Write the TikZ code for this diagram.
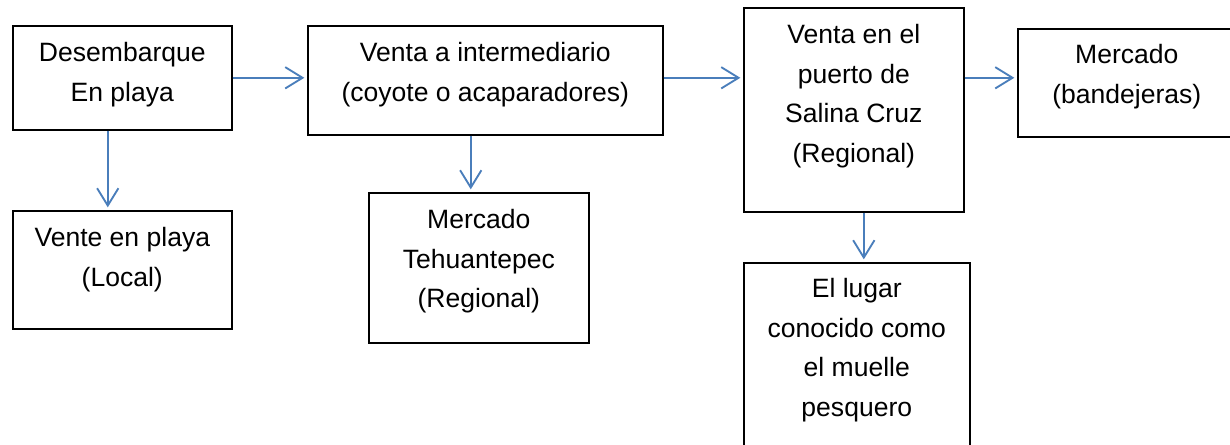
\documentclass[tikz,border=0pt]{standalone}
\usepackage{fontspec}
\setmainfont{Liberation Sans}
\usetikzlibrary{arrows.meta,positioning}
\definecolor{flowblue}{RGB}{74,126,187}
\tikzset{
  box/.style = {draw=black, line width=1.2pt, rectangle, anchor=north west, inner sep=0pt},
  lbl/.style = {align=center, inner sep=0pt, font=\fontsize{19.9}{29.8}\selectfont},
  arrow/.style = {draw=flowblue, line width=1.4pt, -{Straight Barb[length=13pt, width=16pt]}, shorten >=2pt}
}

\begin{document}
\begin{tikzpicture}[x=0.75pt, y=-0.75pt]
  \clip (0,0) rectangle (1230,445);
  % boxes
  \node[box, minimum width=164.25pt, minimum height=78pt] (land) at (12,25) {};
  \node[box, minimum width=164.25pt, minimum height=88.5pt] (beach) at (12,210) {};
  \node[box, minimum width=266.25pt, minimum height=81.75pt] (mid) at (307,25) {};
  \node[box, minimum width=165pt, minimum height=112.5pt] (tehuan) at (368,192) {};
  \node[box, minimum width=165pt, minimum height=153pt] (port) at (743,7) {};
  \node[box, minimum width=163.5pt, minimum height=81pt] (market) at (1017,28) {};
  \node[box, minimum width=169.5pt, minimum height=156pt] (pier) at (743,262) {};
  % texts
  \node[lbl, below=6.2pt of land.north] (landtxt) {\strut Desembarque\\En playa};
  \node[lbl, below=6.2pt of beach.north] (beachtxt) {\strut Vente en playa\\(Local)};
  \node[lbl, below=6.2pt of mid.north] (midtxt) {\strut Venta a intermediario\\(coyote o acaparadores)};
  \node[lbl, below=6.2pt of tehuan.north] (tehuantxt) {\strut Mercado\\Tehuantepec\\(Regional)};
  \node[lbl, below=6.2pt of port.north] (porttxt) {\strut Venta en el\\puerto de\\Salina Cruz\\(Regional)};
  \node[lbl, below=5.5pt of market.north] (markettxt) {\strut Mercado\\(bandejeras)};
  \node[lbl, below=5.5pt of pier.north] (piertxt) {\strut El lugar\\conocido como\\el muelle\\pesquero};
  % arrows
  \draw[arrow] (land.east) -- (land.east -| mid.west);
  \draw[arrow] (mid.east |- land.east) -- (land.east -| port.west);
  \draw[arrow] (port.east |- land.east) -- (land.east -| market.west);
  \draw[arrow] ([xshift=-10.9pt]land.south) -- ([xshift=-10.9pt]land.south |- beach.north);
  \draw[arrow] ([xshift=-10.9pt]mid.south) -- ([xshift=-10.9pt]mid.south |- tehuan.north);
  \draw[arrow] ([xshift=7.5pt]port.south) -- ([xshift=7.5pt]port.south |- pier.north);
\end{tikzpicture}
\end{document}
